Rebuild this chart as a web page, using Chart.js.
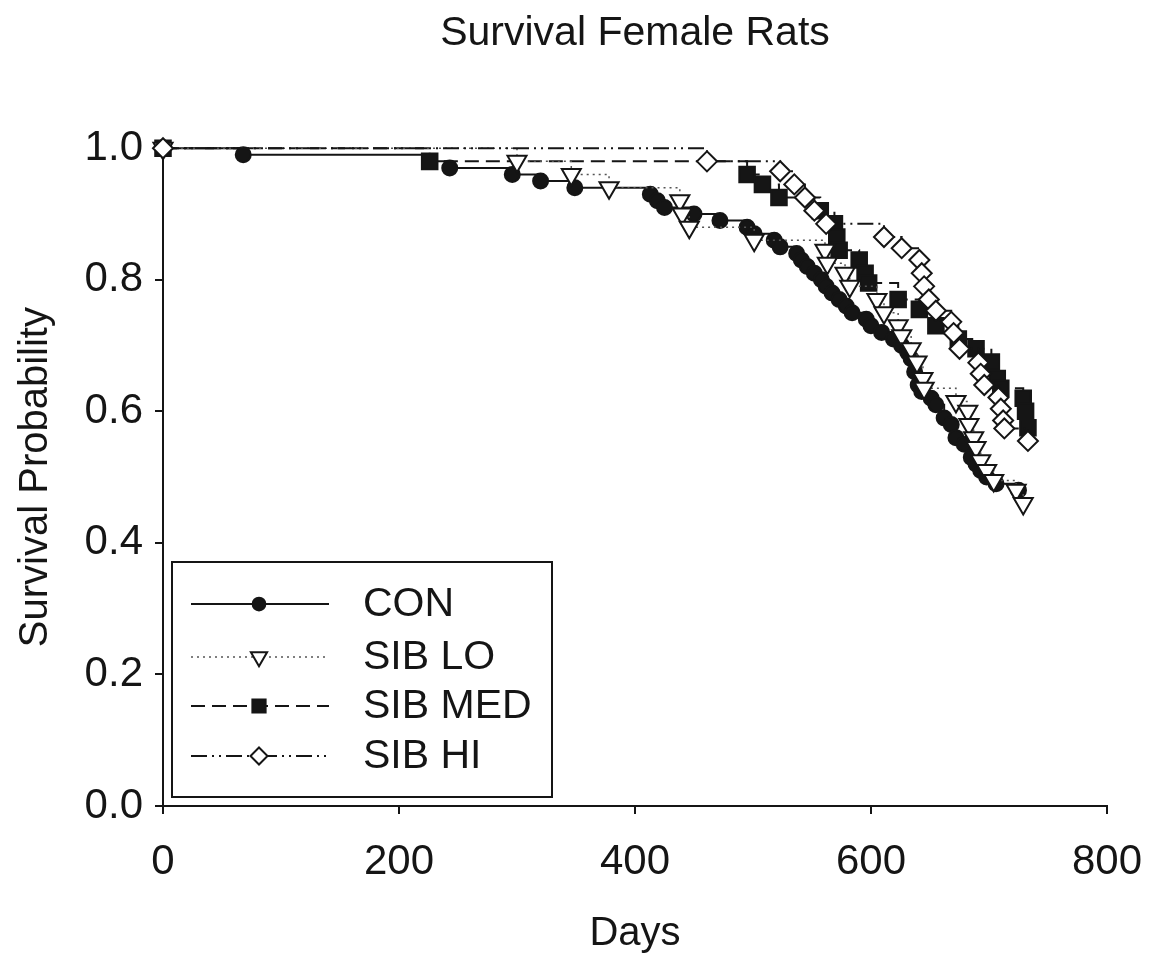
<!DOCTYPE html>
<html><head><meta charset="utf-8">
<script src="https://cdn.jsdelivr.net/npm/chart.js@4.4.1/dist/chart.umd.min.js"></script>
<style>html,body{margin:0;padding:0;background:#fff;}#wrap{width:1157px;height:959px;}</style>
</head><body><div id="wrap"><canvas id="c" width="1157" height="959"></canvas></div>
<script>
const chartTitle = 'Survival Female Rats';
const xTitle = 'Days';
const yTitle = 'Survival Probability';
const xTicks = [0, 200, 400, 600, 800];
const yTicks = [0.0, 0.2, 0.4, 0.6, 0.8, 1.0];
const seriesNames = ['CON', 'SIB LO', 'SIB MED', 'SIB HI'];

const conDays = [0,68,226,243,296,320,349,413,419,425,450,472,495,501,518,523,537,541,546,552,558,562,567,573,579,584,596,600,609,619,626,631,634,637,640,643,651,655,662,668,672,679,685,689,693,698,706,725];
const conSurv = [1.0,0.99,0.98,0.97,0.96,0.95,0.94,0.93,0.92,0.91,0.90,0.89,0.88,0.87,0.86,0.85,0.84,0.83,0.82,0.81,0.80,0.79,0.78,0.77,0.76,0.75,0.74,0.73,0.72,0.71,0.70,0.69,0.68,0.66,0.64,0.63,0.62,0.61,0.59,0.58,0.56,0.55,0.53,0.52,0.51,0.50,0.49,0.48];

const loDays = [0,300,346,378,438,440,446,501,561,563,578,582,605,611,623,626,634,639,644,645,672,682,683,687,689,693,698,704,723,729];
const loSurv = [1.0,0.98,0.96,0.94,0.92,0.90,0.88,0.86,0.845,0.825,0.81,0.79,0.77,0.75,0.73,0.715,0.695,0.675,0.65,0.635,0.615,0.60,0.58,0.56,0.545,0.525,0.51,0.495,0.48,0.46];

const medDays = [0,226,495,508,522,557,569,571,573,590,595,598,623,641,655,674,689,702,707,710,729,731,733];
const medSurv = [1.0,0.98,0.96,0.945,0.925,0.905,0.885,0.865,0.845,0.83,0.81,0.795,0.77,0.755,0.73,0.71,0.695,0.675,0.65,0.635,0.62,0.60,0.575];

const hiDays = [0,461,523,535,544,552,562,611,626,641,643,645,649,655,668,670,675,691,693,696,708,710,712,713,733];
const hiSurv = [1.0,0.98,0.965,0.945,0.925,0.905,0.885,0.865,0.848,0.83,0.81,0.79,0.77,0.753,0.736,0.719,0.695,0.674,0.657,0.64,0.621,0.604,0.586,0.574,0.555];

const FONT = "'Liberation Sans', Arial, sans-serif";
const INK = '#151515';
const pts = (d, s) => d.map((v, i) => ({x: v, y: s[i]}));

const styles = [
  {dash: [], width: 2, color: INK, point: 'circle', r: 7.5, fill: INK, rot: 0},
  {dash: [2, 4], width: 1.5, color: '#555', point: 'triangle', r: 11, fill: '#fff', rot: 180},
  {dash: [14, 7], width: 2, color: INK, point: 'rect', r: 11, fill: INK, rot: 0},
  {dash: [16, 5, 2, 5, 2, 5], width: 2, color: INK, point: 'rectRot', r: 10, fill: '#fff', rot: 0}
];
const dataSets = [pts(conDays, conSurv), pts(loDays, loSurv), pts(medDays, medSurv), pts(hiDays, hiSurv)];
const drawOrder = [4, 2, 3, 1];

const datasets = dataSets.map((d, i) => ({
  label: seriesNames[i],
  data: d,
  stepped: 'before',
  borderColor: styles[i].color,
  borderWidth: styles[i].width,
  borderDash: styles[i].dash,
  pointStyle: styles[i].point,
  pointRadius: styles[i].r,
  pointRotation: styles[i].rot,
  pointBackgroundColor: styles[i].fill,
  pointBorderColor: INK,
  pointBorderWidth: 2,
  fill: false,
  clip: false,
  order: drawOrder[i]
}));

function marker(ctx, s, x, y) {
  ctx.save();
  ctx.setLineDash([]);
  ctx.lineWidth = 2;
  ctx.strokeStyle = INK;
  ctx.fillStyle = s.fill;
  ctx.beginPath();
  if (s.point === 'circle') {
    ctx.arc(x, y, s.r, 0, Math.PI * 2);
  } else if (s.point === 'rect') {
    const h = s.r * Math.SQRT1_2;
    ctx.rect(x - h, y - h, 2 * h, 2 * h);
  } else if (s.point === 'triangle') {
    const r = s.r;
    ctx.moveTo(x, y + r);
    ctx.lineTo(x - r * 0.866, y - r * 0.5);
    ctx.lineTo(x + r * 0.866, y - r * 0.5);
    ctx.closePath();
  } else {
    const r = s.r;
    ctx.moveTo(x, y - r); ctx.lineTo(x + r, y); ctx.lineTo(x, y + r); ctx.lineTo(x - r, y); ctx.closePath();
  }
  ctx.fill();
  ctx.stroke();
  ctx.restore();
}

const legendBox = {
  id: 'legendBox',
  afterDraw(chart) {
    const ctx = chart.ctx;
    const a = chart.chartArea;
    const L = a.left + 9, T = a.bottom - 244, R = a.left + 389, B = a.bottom - 9;
    ctx.save();
    ctx.strokeStyle = INK;
    ctx.lineWidth = 2;
    ctx.setLineDash([]);
    ctx.strokeRect(L, T, R - L, B - T);
    const rows = [42, 95, 144, 194];
    ctx.font = '41px ' + FONT;
    ctx.textBaseline = 'middle';
    ctx.textAlign = 'left';
    seriesNames.forEach((n, i) => {
      const s = styles[i];
      const y = T + rows[i];
      ctx.save();
      ctx.strokeStyle = s.color;
      ctx.lineWidth = s.width;
      ctx.setLineDash(s.dash);
      ctx.beginPath();
      ctx.moveTo(L + 19, y);
      ctx.lineTo(L + 157, y);
      ctx.stroke();
      ctx.restore();
      marker(ctx, Object.assign({}, s, {r: s.r * 0.85}), L + 87, y);
      ctx.fillStyle = INK;
      ctx.fillText(n, L + 191, y + 1);
    });
    ctx.restore();
  }
};

new Chart(document.getElementById('c'), {
  type: 'line',
  data: {datasets},
  options: {
    responsive: false,
    devicePixelRatio: 1,
    animation: false,
    layout: {padding: {left: 0, right: 50, top: 0, bottom: 0}},
    plugins: {
      legend: {display: false},
      tooltip: {enabled: false},
      title: {
        display: true,
        fullSize: false,
        text: chartTitle,
        color: INK,
        font: {family: FONT, size: 41, weight: 'normal'},
        padding: {top: 9, bottom: 90}
      }
    },
    scales: {
      x: {
        type: 'linear',
        min: 0, max: 800,
        afterBuildTicks: (s) => { s.ticks = xTicks.map(v => ({value: v})); },
        afterFit: (s) => { s.height = 153; s.paddingRight = 0; s.paddingLeft = 0; },
        ticks: {color: INK, font: {family: FONT, size: 42}, padding: 23, callback: (v) => String(v), maxRotation: 0},
        grid: {drawOnChartArea: false, drawTicks: true, tickLength: 8, color: INK, lineWidth: 2},
        border: {display: true, color: INK, width: 2},
        title: {display: true, text: xTitle, color: INK, font: {family: FONT, size: 40}, padding: {top: 0, bottom: 1}}
      },
      y: {
        type: 'linear',
        min: 0, max: 1,
        afterBuildTicks: (s) => { s.ticks = yTicks.map(v => ({value: v})); },
        afterFit: (s) => { s.width = 163; },
        ticks: {color: INK, font: {family: FONT, size: 42}, padding: 12, callback: (v) => Number(v).toFixed(1)},
        grid: {drawOnChartArea: false, drawTicks: true, tickLength: 8, color: INK, lineWidth: 2},
        border: {display: true, color: INK, width: 2},
        title: {display: true, text: yTitle, color: INK, font: {family: FONT, size: 40}, padding: {top: 12, bottom: 0}}
      }
    }
  },
  plugins: [legendBox]
});
</script>
</body></html>
